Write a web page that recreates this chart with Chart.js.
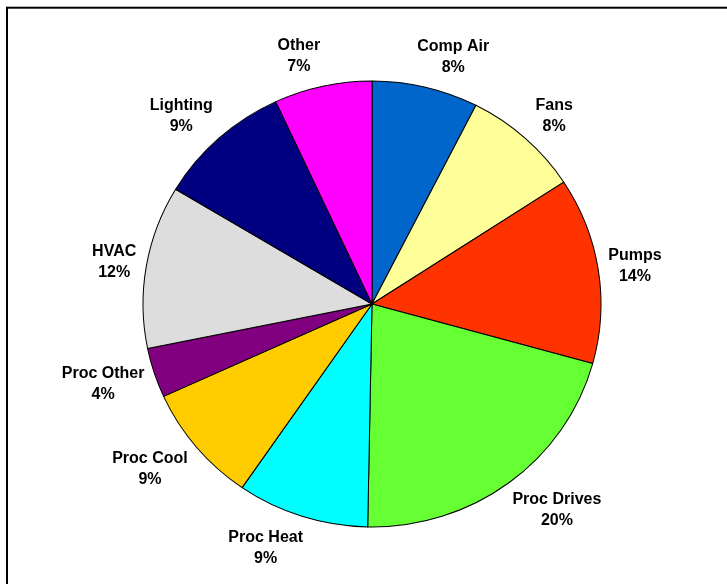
<!DOCTYPE html>
<html>
<head>
<meta charset="utf-8">
<script src="https://cdn.jsdelivr.net/npm/chart.js@4"></script>
<style>
html,body{margin:0;padding:0;background:#fff;}
canvas{display:block;}
</style>
</head>
<body>
<canvas id="c" width="727" height="584"></canvas>
<script>
const categories = ['Comp Air','Fans','Pumps','Proc Drives','Proc Heat','Proc Cool','Proc Other','HVAC','Lighting','Other'];
const shares = [7.5, 8.3, 13.5, 21.0, 9.3, 8.6, 3.6, 11.8, 9.5, 6.9];
const pctLabels = ['8%','8%','14%','20%','9%','9%','4%','12%','9%','7%'];
const colors = ['#0066CC','#FFFF99','#FF3300','#66FF33','#00FFFF','#FFCC00','#800080','#DDDDDD','#000080','#FF00FF'];

const FONT = 'bold 16px "Liberation Sans", Arial, sans-serif';
// the reference pie is slightly wider than tall
const SX = 229 / 225.5, SY = 223 / 225.5;

const framePlugin = {
  id: 'frame',
  beforeDraw(chart) {
    const ctx = chart.ctx;
    ctx.save();
    ctx.fillStyle = '#fff';
    ctx.fillRect(0, 0, chart.width, chart.height);
    ctx.strokeStyle = '#000';
    ctx.lineWidth = 2;
    ctx.strokeRect(7, 7.7, chart.width + 50, chart.height + 50);
    ctx.restore();
  }
};

const ellipsePlugin = {
  id: 'ellipse',
  beforeDatasetsDraw(chart) {
    const a = chart.getDatasetMeta(0).data[0];
    const ctx = chart.ctx;
    ctx.save();
    ctx.translate(a.x, a.y);
    ctx.scale(SX, SY);
    ctx.translate(-a.x, -a.y);
  },
  afterDatasetsDraw(chart) {
    chart.ctx.restore();
  }
};

const labelPlugin = {
  id: 'outerLabels',
  afterDatasetsDraw(chart) {
    const ctx = chart.ctx;
    const meta = chart.getDatasetMeta(0);
    ctx.save();
    ctx.font = FONT;
    ctx.fillStyle = '#000';
    ctx.textAlign = 'center';
    ctx.textBaseline = 'alphabetic';
    const gap = 10, lineH = 21, capH = 11.5, boxH = 44;
    meta.data.forEach((arc, i) => {
      const p = arc.getProps(['x','y','startAngle','endAngle','outerRadius'], true);
      const mid = (p.startAngle + p.endAngle) / 2;
      const dx = Math.cos(mid), dy = Math.sin(mid);
      const l1 = categories[i], l2 = pctLabels[i];
      const w = Math.max(ctx.measureText(l1).width, ctx.measureText(l2).width);
      const ax = p.x + (p.outerRadius * SX + gap) * dx;
      const ay = p.y + (p.outerRadius * SY + gap) * dy;
      const push = Math.sign(dx) * dy * dy * (dy < 0 ? 18 : 24);
      const cx = ax + dx * w / 2 + push;
      const cy = ay + dy * boxH / 2;
      const top = cy - (capH + lineH) / 2;
      ctx.fillText(l1, cx, top + capH);
      ctx.fillText(l2, cx, top + capH + lineH);
    });
    ctx.restore();
  }
};

new Chart(document.getElementById('c'), {
  type: 'pie',
  data: {
    labels: categories,
    datasets: [{
      data: shares,
      backgroundColor: colors,
      borderColor: '#000',
      borderWidth: 1
    }]
  },
  options: {
    responsive: false,
    animation: false,
    layout: { padding: { left: 146, right: 129, top: 78, bottom: 54 } },
    plugins: {
      legend: { display: false },
      tooltip: { enabled: false }
    }
  },
  plugins: [framePlugin, ellipsePlugin, labelPlugin]
});
</script>
</body>
</html>
